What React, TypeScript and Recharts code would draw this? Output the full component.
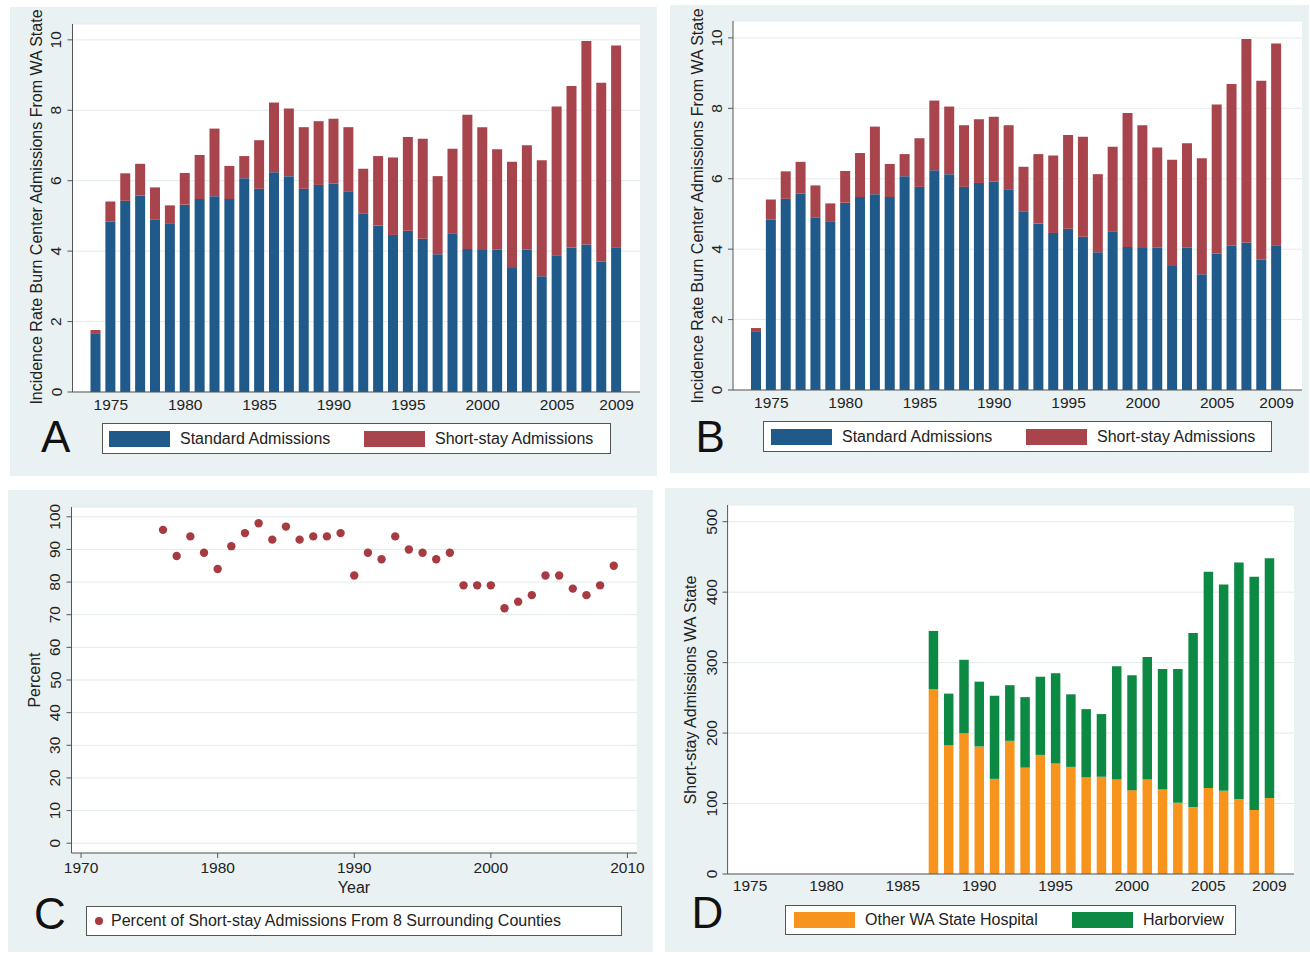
import React from "react";
import {
  BarChart, Bar, XAxis, YAxis, CartesianGrid, ScatterChart, Scatter,
} from "recharts";

const FONT = "'Liberation Sans', Arial, Helvetica, sans-serif";
const PANEL_BG = "#eaf1f3";
const AXIS_COLOR = "#555";
const GRID_COLOR = "#e3ebee";
const TEXT_COLOR = "#222";
const BLUE = "#1f5a8b";
const RED = "#a8444b";
const ORANGE = "#f7941e";
const GREEN = "#0c8a43";
const DOT_COLOR = "#a63b42";

// Panels A and B: incidence rate per year
const YEARS = [
  1974, 1975, 1976, 1977, 1978, 1979, 1980, 1981, 1982, 1983, 1984, 1985,
  1986, 1987, 1988, 1989, 1990, 1991, 1992, 1993, 1994, 1995, 1996, 1997,
  1998, 1999, 2000, 2001, 2002, 2003, 2004, 2005, 2006, 2007, 2008, 2009,
];
const STANDARD = [
  1.67, 4.84, 5.43, 5.58, 4.89, 4.79, 5.32, 5.48, 5.56, 5.48, 6.07, 5.77,
  6.24, 6.13, 5.77, 5.88, 5.92, 5.7, 5.06, 4.73, 4.46, 4.58, 4.35, 3.91,
  4.51, 4.06, 4.03, 4.04, 3.52, 4.04, 3.29, 3.88, 4.1, 4.19, 3.7, 4.11,
];
const SHORT_STAY = [
  0.09, 0.57, 0.78, 0.9, 0.92, 0.51, 0.9, 1.25, 1.92, 0.94, 0.63, 1.38,
  1.98, 1.92, 1.75, 1.81, 1.84, 1.82, 1.28, 1.97, 2.2, 2.66, 2.84, 2.22,
  2.4, 3.81, 3.49, 2.85, 3.02, 2.97, 3.29, 4.23, 4.59, 5.78, 5.08, 5.73,
];
const YEAR_LABELS = [1975, 1980, 1985, 1990, 1995, 2000, 2005, 2009];
const RATE_TICKS = [0, 2, 4, 6, 8, 10];

// Panel C: percent from surrounding counties
const PCT_YEARS = [
  1976, 1977, 1978, 1979, 1980, 1981, 1982, 1983, 1984, 1985, 1986, 1987,
  1988, 1989, 1990, 1991, 1992, 1993, 1994, 1995, 1996, 1997, 1998, 1999,
  2000, 2001, 2002, 2003, 2004, 2005, 2006, 2007, 2008, 2009,
];
const PCT_SURROUNDING = [
  96, 88, 94, 89, 84, 91, 95, 98, 93, 97, 93, 94,
  94, 95, 82, 89, 87, 94, 90, 89, 87, 89, 79, 79,
  79, 72, 74, 76, 82, 82, 78, 76, 79, 85,
];
const PCT_X_TICKS = [1970, 1980, 1990, 2000, 2010];
const PCT_Y_TICKS = [0, 10, 20, 30, 40, 50, 60, 70, 80, 90, 100];

// Panel D: short-stay admissions by hospital
const D_YEARS = [
  1975, 1976, 1977, 1978, 1979, 1980, 1981, 1982, 1983, 1984, 1985, 1986,
  1987, 1988, 1989, 1990, 1991, 1992, 1993, 1994, 1995, 1996, 1997, 1998,
  1999, 2000, 2001, 2002, 2003, 2004, 2005, 2006, 2007, 2008, 2009,
];
const D_DATA_YEARS = [
  1987, 1988, 1989, 1990, 1991, 1992, 1993, 1994, 1995, 1996, 1997, 1998,
  1999, 2000, 2001, 2002, 2003, 2004, 2005, 2006, 2007, 2008, 2009,
];
const OTHER_HOSPITAL = [
  262, 183, 200, 181, 135, 189, 151, 169, 157, 152, 137, 138,
  134, 119, 134, 120, 101, 95, 122, 118, 106, 91, 108,
];
const HARBORVIEW = [
  83, 73, 104, 92, 118, 79, 100, 111, 128, 103, 97, 89,
  161, 163, 174, 171, 190, 247, 307, 293, 336, 331, 340,
];
const COUNT_TICKS = [0, 100, 200, 300, 400, 500];

const rateData = YEARS.map((year, i) => ({
  year, standard: STANDARD[i], shortStay: SHORT_STAY[i],
}));
const pctData = PCT_YEARS.map((year, i) => ({ year, pct: PCT_SURROUNDING[i] }));
const countData = D_YEARS.map((year) => {
  const j = D_DATA_YEARS.indexOf(year);
  return {
    year,
    other: j >= 0 ? OTHER_HOSPITAL[j] : null,
    harborview: j >= 0 ? HARBORVIEW[j] : null,
  };
});

const RATE_SERIES = [
  { key: "standard", name: "Standard Admissions", color: BLUE },
  { key: "shortStay", name: "Short-stay Admissions", color: RED },
];
const COUNT_SERIES = [
  { key: "other", name: "Other WA State Hospital", color: ORANGE },
  { key: "harborview", name: "Harborview", color: GREEN },
];

const tickStyle = { fill: TEXT_COLOR, fontSize: 15.5, fontFamily: FONT };
const yearLabel = (v: number) => (YEAR_LABELS.includes(v) ? String(v) : "");

const RotTick = (props: any) => {
  const { x, y, payload } = props;
  return (
    <text
      x={x}
      y={y}
      transform={`rotate(-90 ${x} ${y})`}
      textAnchor="middle"
      fill={TEXT_COLOR}
      fontSize={15.5}
      fontFamily={FONT}
    >
      {payload.value}
    </text>
  );
};

const Dot = (props: any) => (
  <circle cx={props.cx} cy={props.cy} r={4.2} fill={DOT_COLOR} />
);

const box = (l: number, t: number, w: number, h: number): React.CSSProperties => ({
  position: "absolute", left: l, top: t, width: w, height: h,
});

const Panel = ({ l, t, w, h }: { l: number; t: number; w: number; h: number }) => (
  <div style={{ ...box(l, t, w, h), background: PANEL_BG }} />
);

const VTitle = ({ cx, cy, text }: { cx: number; cy: number; text: string }) => (
  <div
    style={{
      position: "absolute", left: cx, top: cy,
      transform: "translate(-50%, -50%) rotate(-90deg)",
      whiteSpace: "nowrap", fontSize: 16, lineHeight: 1, color: TEXT_COLOR,
    }}
  >
    {text}
  </div>
);

const Letter = ({ x, baseline, text }: { x: number; baseline: number; text: string }) => (
  <div
    style={{
      position: "absolute", left: x, top: baseline - 0.8465 * 44,
      fontSize: 44, lineHeight: 1, color: "#111",
    }}
  >
    {text}
  </div>
);

interface LegendItem { name: string; color: string; }

const LegendBox = ({ l, t, w, h, items, cols, dot }: {
  l: number; t: number; w: number; h: number;
  items: LegendItem[]; cols: number[]; dot?: boolean;
}) => (
  <div
    style={{
      ...box(l, t, w, h), boxSizing: "border-box",
      border: `1px solid ${AXIS_COLOR}`, background: "#fff",
    }}
  >
    {items.map((it, i) => (
      <div
        key={it.name}
        style={{
          position: "absolute", left: cols[i], top: 0, bottom: 0,
          display: "flex", alignItems: "center", whiteSpace: "nowrap",
          fontSize: 16, color: TEXT_COLOR,
        }}
      >
        {dot ? (
          <span
            style={{
              display: "inline-block", width: 8, height: 8, borderRadius: 4,
              background: it.color, marginRight: 8,
            }}
          />
        ) : (
          <span
            style={{
              display: "inline-block", width: 61, height: 16,
              background: it.color, marginRight: 10,
            }}
          />
        )}
        <span>{it.name}</span>
      </div>
    ))}
  </div>
);

const RateChart = ({ l, t, w, h, margin, yWidth, padding, top }: {
  l: number; t: number; w: number; h: number;
  margin: { top: number; right: number; bottom: number; left: number };
  yWidth: number; padding: { left: number; right: number }; top: number;
}) => (
  <div style={box(l, t, w, h)}>
    <BarChart width={w} height={h} data={rateData} margin={margin} barSize={10}>
      <CartesianGrid vertical={false} stroke={GRID_COLOR} fill="#fff" fillOpacity={1} />
      <XAxis
        dataKey="year"
        interval={0}
        tickFormatter={yearLabel}
        tick={tickStyle}
        tickLine={false}
        tickSize={0}
        tickMargin={7}
        height={30}
        padding={padding}
        axisLine={{ stroke: AXIS_COLOR }}
      />
      <YAxis
        type="number"
        domain={[0, top]}
        ticks={RATE_TICKS}
        width={yWidth}
        tick={<RotTick />}
        tickSize={5}
        tickMargin={6}
        tickLine={{ stroke: AXIS_COLOR }}
        axisLine={{ stroke: AXIS_COLOR }}
      />
      {RATE_SERIES.map((s) => (
        <Bar key={s.key} dataKey={s.key} name={s.name} stackId="a" fill={s.color} isAnimationActive={false} />
      ))}
    </BarChart>
  </div>
);

export default function App() {
  return (
    <div
      style={{
        position: "absolute", left: 0, top: 0, width: 1310, height: 955,
        background: "#fff", fontFamily: FONT, overflow: "hidden",
      }}
    >
      <Panel l={10} t={7} w={647} h={469} />
      <Panel l={670} t={5} w={639} h={468} />
      <Panel l={8} t={490} w={645} h={462} />
      <Panel l={665} t={488} w={645} h={464} />

      {/* A */}
      <RateChart
        l={10} t={7} w={647} h={469}
        margin={{ top: 17, right: 17, bottom: 54, left: 0 }}
        yWidth={62.5}
        padding={{ left: 16, right: 16 }}
        top={10.45}
      />
      <VTitle cx={37} cy={207} text="Incidence Rate Burn Center Admissions From WA State" />
      <Letter x={41} baseline={452} text="A" />
      <LegendBox l={102} t={423} w={509} h={31} items={RATE_SERIES} cols={[6, 261]} />

      {/* B */}
      <RateChart
        l={670} t={5} w={639} h={468}
        margin={{ top: 16, right: 7, bottom: 53, left: 0 }}
        yWidth={63}
        padding={{ left: 16, right: 18 }}
        top={10.48}
      />
      <VTitle cx={697.5} cy={206} text="Incidence Rate Burn Center Admissions From WA State" />
      <Letter x={695.5} baseline={452} text="B" />
      <LegendBox l={763} t={421} w={509} h={31} items={RATE_SERIES} cols={[7, 262]} />

      {/* C */}
      <div style={box(8, 490, 645, 462)}>
        <ScatterChart width={645} height={462} margin={{ top: 17, right: 16, bottom: 69, left: 0 }}>
          <CartesianGrid vertical={false} stroke={GRID_COLOR} fill="#fff" fillOpacity={1} />
          <XAxis
            type="number"
            dataKey="year"
            domain={[1969.3, 2010.7]}
            ticks={PCT_X_TICKS}
            tick={tickStyle}
            tickSize={5}
            tickMargin={4}
            height={30}
            tickLine={{ stroke: AXIS_COLOR }}
            axisLine={{ stroke: AXIS_COLOR }}
          />
          <YAxis
            type="number"
            dataKey="pct"
            domain={[-3, 103]}
            ticks={PCT_Y_TICKS}
            width={63.5}
            tick={<RotTick />}
            tickSize={5}
            tickMargin={6}
            tickLine={{ stroke: AXIS_COLOR }}
            axisLine={{ stroke: AXIS_COLOR }}
          />
          <Scatter data={pctData} fill={DOT_COLOR} shape={<Dot />} isAnimationActive={false} />
        </ScatterChart>
      </div>
      <VTitle cx={34.5} cy={680} text="Percent" />
      <div
        style={{
          position: "absolute", left: 354, top: 888, transform: "translate(-50%, -50%)",
          fontSize: 16, lineHeight: 1, color: TEXT_COLOR,
        }}
      >
        Year
      </div>
      <Letter x={34} baseline={929} text="C" />
      <LegendBox
        l={86} t={906} w={536} h={30}
        items={[{ name: "Percent of Short-stay Admissions From 8 Surrounding Counties", color: DOT_COLOR }]}
        cols={[8]}
        dot
      />

      {/* D */}
      <div style={box(665, 488, 645, 464)}>
        <BarChart width={645} height={464} data={countData} margin={{ top: 17, right: 16, bottom: 48, left: 0 }} barSize={9.5}>
          <CartesianGrid vertical={false} stroke={GRID_COLOR} fill="#fff" fillOpacity={1} />
          <XAxis
            dataKey="year"
            interval={0}
            tickFormatter={yearLabel}
            tick={tickStyle}
            tickLine={false}
            tickSize={0}
            tickMargin={6}
            height={30}
            padding={{ left: 14.8, right: 17 }}
            axisLine={{ stroke: AXIS_COLOR }}
          />
          <YAxis
            type="number"
            domain={[0, 523.7]}
            ticks={COUNT_TICKS}
            width={62.6}
            tick={<RotTick />}
            tickSize={5}
            tickMargin={6}
            tickLine={{ stroke: AXIS_COLOR }}
            axisLine={{ stroke: AXIS_COLOR }}
          />
          {COUNT_SERIES.map((s) => (
            <Bar key={s.key} dataKey={s.key} name={s.name} stackId="d" fill={s.color} isAnimationActive={false} />
          ))}
        </BarChart>
      </div>
      <VTitle cx={691} cy={690} text="Short-stay Admissions WA State" />
      <Letter x={691.5} baseline={928} text="D" />
      <LegendBox l={785} t={905} w={451} h={30} items={COUNT_SERIES} cols={[8, 286]} />
    </div>
  );
}
